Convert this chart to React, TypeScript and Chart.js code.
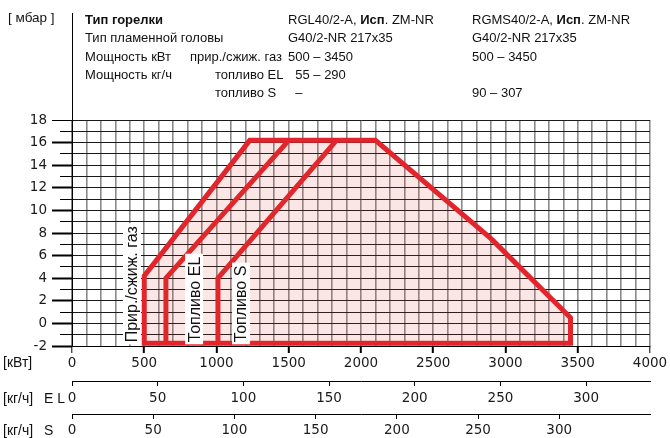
import React, { useEffect, useRef } from 'react';
import { Chart, registerables } from 'chart.js';

Chart.register(...registerables);

// ---- scales ----
const KW_MIN = 0;
const KW_MAX = 4000;
const MBAR_MIN = -2;
const MBAR_MAX = 18;
const EL_KW_PER_KG = 11.86; // kW per kg/h, fuel oil EL
const S_KW_PER_KG = 11.24;  // kW per kg/h, fuel oil S
const KG_TICK_MAX = 300;    // last labelled kg/h tick on both fuel axes

// ---- working field envelopes (kW, mbar) ----
const gasKw = [1500, 500, 500, 1230, 2100, 2900, 3450, 3450, 1500];
const gasMbar = [-1.75, -1.75, 4.2, 16.2, 16.2, 7.5, 0.5, -1.75, -1.75];
const elKw = [650, 650, 1500];
const elMbar = [-1.75, 4.0, 16.2];
const sKw = [1010, 1010, 1830];
const sMbar = [-1.75, 4.0, 16.2];

// ---- curve labels ----
const curveLabels = ['Прир./сжиж. газ', 'Топливо EL', 'Топливо S'];
const curveLabelKw = [415, 845, 1170];
const curveLabelMbar = [-1.85, -1.85, -1.85];

// ---- header texts ----
const headerLeft = ['Тип горелки', 'Тип пламенной головы', 'Мощность кВт', 'Мощность кг/ч', ''];
const headerMid = ['', '', 'прир./сжиж. газ', 'топливо EL', 'топливо S'];
const colRGL = ['RGL40/2-A, |Исп|. ZM-NR', 'G40/2-NR 217x35', '500 – 3450', '  55 – 290', '  –'];
const colRGMS = ['RGMS40/2-A, |Исп|. ZM-NR', 'G40/2-NR 217x35', '500 – 3450', '', '90 – 307'];
const headerRowsY = [20, 38, 57, 75, 93];

const RED = '#e2252c';
const FONT_TXT = '"Liberation Sans", Arial, sans-serif';
const FONT_NUM = '"DejaVu Sans", sans-serif';

const toPts = (xs: number[], ys: number[]) => xs.map((x, i) => ({ x, y: ys[i] }));

const overlayPlugin = {
  id: 'overlay',
  afterDatasetsDraw(chart: any) {
    const { ctx, scales } = chart;
    const x = scales.x;
    const y = scales.y;
    ctx.save();
    ctx.font = `16px ${FONT_TXT}`;
    curveLabels.forEach((t, i) => {
      const px = x.getPixelForValue(curveLabelKw[i]);
      const py = y.getPixelForValue(curveLabelMbar[i]);
      const w = ctx.measureText(t).width;
      ctx.save();
      ctx.translate(px, py);
      ctx.rotate(-Math.PI / 2);
      ctx.fillStyle = '#fff';
      ctx.fillRect(0, -9, w + 5, 18);
      ctx.fillStyle = '#111';
      ctx.textBaseline = 'middle';
      ctx.textAlign = 'left';
      ctx.fillText(t, 2, 1);
      ctx.restore();
    });
    // header separator: continuation of the y axis line
    const x0 = Math.round(x.getPixelForValue(0)) + 0.5;
    ctx.strokeStyle = '#000';
    ctx.lineWidth = 1;
    ctx.beginPath();
    ctx.moveTo(x0, 13);
    ctx.lineTo(x0, chart.chartArea.top);
    ctx.stroke();
    ctx.restore();
  },
};

function HeaderText({ x, y, text, weight, size }: { x: number; y: number; text: string; weight?: number; size?: number }) {
  const parts = text.split('|');
  return (
    <div
      style={{
        position: 'absolute',
        left: x,
        top: y - 8,
        fontFamily: FONT_TXT,
        fontSize: size || 13,
        lineHeight: '16px',
        whiteSpace: 'pre',
        color: '#111',
        fontWeight: weight || 400,
      }}
    >
      {parts.map((p, i) => (i % 2 === 1 ? <b key={i}>{p}</b> : <span key={i}>{p}</span>))}
    </div>
  );
}

export default function App() {
  const ref = useRef<HTMLCanvasElement>(null);

  useEffect(() => {
    document.body.style.margin = '0';
    const numFont = { family: FONT_NUM, size: 13.5 };
    const keepKgTicks = (s: any) => {
      s.ticks = s.ticks.filter((t: any) => t.value <= KG_TICK_MAX);
    };
    const chart = new Chart(ref.current as HTMLCanvasElement, {
      type: 'scatter',
      data: {
        datasets: [
          {
            data: toPts(gasKw, gasMbar),
            showLine: true,
            fill: 'shape' as any,
            backgroundColor: 'rgba(215, 60, 50, 0.13)',
            borderColor: RED,
            borderWidth: 5,
            borderJoinStyle: 'miter',
            pointRadius: 0,
            xAxisID: 'x',
            yAxisID: 'y',
          },
          {
            data: toPts(elKw, elMbar),
            showLine: true,
            fill: false,
            borderColor: RED,
            borderWidth: 5,
            borderJoinStyle: 'miter',
            pointRadius: 0,
            xAxisID: 'x',
            yAxisID: 'y',
          },
          {
            data: toPts(sKw, sMbar),
            showLine: true,
            fill: false,
            borderColor: RED,
            borderWidth: 5,
            borderJoinStyle: 'miter',
            pointRadius: 0,
            xAxisID: 'x',
            yAxisID: 'y',
          },
        ],
      },
      options: {
        responsive: false,
        animation: false,
        events: [],
        layout: { padding: { top: 120, right: 20, bottom: 0, left: 0 } },
        plugins: { legend: { display: false }, tooltip: { enabled: false } },
        scales: {
          x: {
            type: 'linear',
            position: 'bottom',
            weight: 0,
            min: KW_MIN,
            max: KW_MAX,
            ticks: {
              stepSize: 100,
              autoSkip: false,
              maxRotation: 0,
              padding: 2,
              color: '#1a1a1a',
              font: numFont,
              callback: (v: any) => (Number(v) % 500 === 0 ? String(v) : ''),
            },
            grid: {
              color: '#8a8a8a',
              lineWidth: 1.6,
              tickLength: 7,
              tickColor: (c: any) => (c.tick && c.tick.value % 500 === 0 ? '#000' : 'rgba(0,0,0,0)'),
              tickWidth: (c: any) => (c.tick && c.tick.value % 500 === 0 && c.tick.value > 0 && c.tick.value < 4000 ? 2 : 1),
            },
            border: { color: '#000', width: 1 },
            afterFit: (s: any) => { s.height = 35; },
          },
          xEL: {
            type: 'linear',
            position: 'bottom',
            weight: 1,
            min: 0,
            max: KW_MAX / EL_KW_PER_KG,
            afterBuildTicks: keepKgTicks,
            ticks: {
              stepSize: 50,
              includeBounds: false,
              autoSkip: false,
              maxRotation: 0,
              padding: 4,
              color: '#1a1a1a',
              font: numFont,
            },
            grid: { drawOnChartArea: false, color: '#000', tickLength: 5, tickWidth: 1 },
            border: { color: '#000', width: 1 },
            afterFit: (s: any) => { s.height = 33; },
          },
          xS: {
            type: 'linear',
            position: 'bottom',
            weight: 2,
            min: 0,
            max: KW_MAX / S_KW_PER_KG,
            afterBuildTicks: keepKgTicks,
            ticks: {
              stepSize: 50,
              includeBounds: false,
              autoSkip: false,
              maxRotation: 0,
              padding: 3,
              color: '#1a1a1a',
              font: numFont,
            },
            grid: { drawOnChartArea: false, color: '#000', tickLength: 5, tickWidth: 1 },
            border: { color: '#000', width: 1 },
            afterFit: (s: any) => { s.height = 24; },
          },
          y: {
            type: 'linear',
            position: 'left',
            min: MBAR_MIN,
            max: MBAR_MAX,
            ticks: {
              stepSize: 1,
              autoSkip: false,
              padding: 5,
              color: '#1a1a1a',
              font: numFont,
              callback: (v: any) => (Number(v) % 2 === 0 ? String(v) : ''),
            },
            grid: {
              color: '#1a1a1a',
              lineWidth: 1,
              tickLength: 20,
              tickColor: '#000',
              tickWidth: (c: any) => (c.tick && c.tick.value % 2 === 0 && c.tick.value !== 18 ? 2 : 1),
              tickBorderDash: (c: any) => (c.tick && Math.abs(c.tick.value % 2) === 1 ? [0, 8, 12, 0] : []),
            } as any,
            border: { color: '#000', width: 1 },
            afterFit: (s: any) => { s.width = 72; },
          },
        },
      } as any,
      plugins: [overlayPlugin],
    });
    return () => chart.destroy();
  }, []);

  return (
    <div style={{ position: 'relative', width: 670, height: 438, background: '#fff', overflow: 'hidden' }}>
      <canvas ref={ref} width={670} height={438} style={{ position: 'absolute', left: 0, top: 0 }} />
      <HeaderText x={8} y={18} text="[ мбар ]" size={13.5} />
      {headerLeft.map((t, i) => (t ? <HeaderText key={'l' + i} x={85} y={headerRowsY[i]} text={t} weight={i === 0 ? 700 : 400} /> : null))}
      {headerMid.map((t, i) => (t ? <HeaderText key={'m' + i} x={i === 2 ? 190 : 215} y={headerRowsY[i]} text={t} /> : null))}
      {colRGL.map((t, i) => (t ? <HeaderText key={'a' + i} x={288} y={headerRowsY[i]} text={t} weight={i === 0 ? 500 : 400} /> : null))}
      {colRGMS.map((t, i) => (t ? <HeaderText key={'b' + i} x={472} y={headerRowsY[i]} text={t} weight={i === 0 ? 500 : 400} /> : null))}
      <HeaderText x={3} y={362} text="[кВт]" size={14} />
      <HeaderText x={3} y={398} text="[кг/ч]" size={14} />
      <HeaderText x={44} y={398} text="E L" size={14} />
      <HeaderText x={3} y={430} text="[кг/ч]" size={14} />
      <HeaderText x={44} y={430} text="S" size={14} />
    </div>
  );
}
